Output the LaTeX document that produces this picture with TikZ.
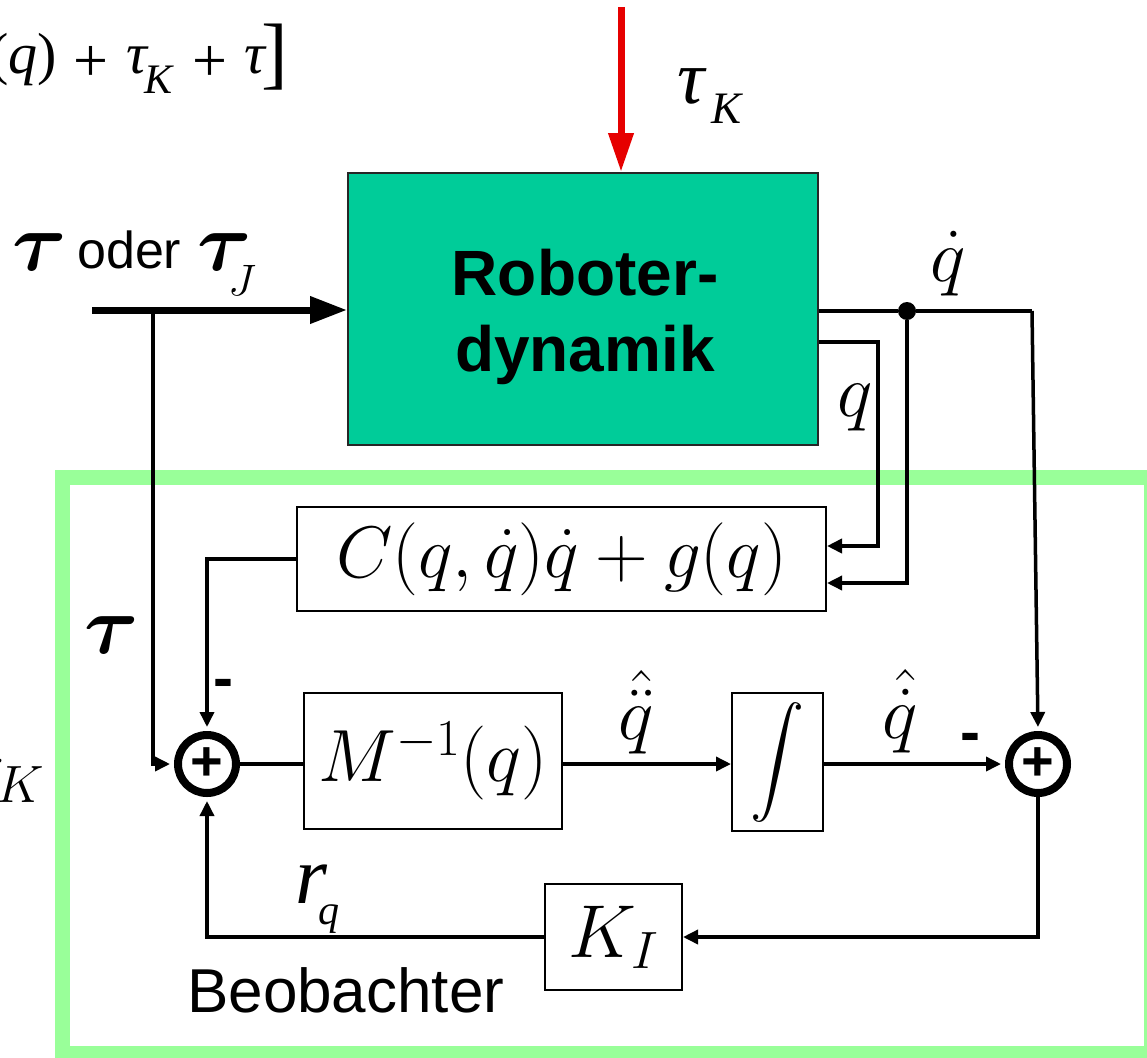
\RequirePackage{fix-cm}
\documentclass[tikz,border=0pt]{standalone}
\usepackage{amsmath}
\usepackage{graphicx}
\usepackage{fontspec}
\setsansfont{Liberation Sans}
\newfontfamily\tms{Liberation Serif}
\usetikzlibrary{arrows.meta}
\definecolor{robgreen}{HTML}{00CC99}
\definecolor{obsgreen}{HTML}{99FF99}
\definecolor{kred}{HTML}{E60000}
\newcommand\setfs[1]{\fontsize{#1}{#1}\selectfont}
\begin{document}
\begin{tikzpicture}[x=1pt,y=-1pt,
  conn/.style={line width=3.5pt},
  arr/.style={conn,-{Triangle[length=15pt,width=14pt]}},
  blk/.style={draw=black,line width=2pt,rectangle,inner sep=0pt,font=\setfs{74}},
  sumnode/.style={circle,draw=black,line width=8pt,minimum size=58pt,inner sep=0pt,font=\sffamily\bfseries\setfs{56}},
  mlbl/.style={inner sep=0pt,font=\setfs{75}},
  tlbl/.style={inner sep=0pt},
  minus/.style={inner sep=0pt,font=\sffamily\bfseries\setfs{60}}]
\useasboundingbox (0,0) rectangle (1147,1057);
\clip (0,0) rectangle (1147,1057);
% observer frame
\draw[obsgreen,line width=15pt] (62,477) rectangle (1151,1053);
% blocks
\node[draw=black!85,line width=2pt,fill=robgreen,minimum width=470pt,minimum height=272pt,inner sep=0pt] (rob) at (583,309) {};
\node[tlbl,anchor=base,font=\sffamily\bfseries\setfs{64}] (rob1) at (585,295) {Roboter-};
\node[tlbl,anchor=base,font=\sffamily\bfseries\setfs{64}] (rob2) at (585,371) {dynamik};
\node[blk,minimum width=529pt,minimum height=104pt,font=\setfs{73}] (cbox) at (561.5,559) {$C(q,\dot q)\dot q+g(q)$};
\node[blk,minimum width=258pt,minimum height=136pt] (mbox) at (433,761) {$M^{-1}(q)$};
\node[blk,minimum width=91pt,minimum height=138pt,font=\setfs{10}] (ibox) at (777.5,762) {\scalebox{5.4}{$\displaystyle\int$}};
\node[blk,minimum width=137pt,minimum height=106pt,font=\setfs{75}] (kbox) at (613.5,937) {$K_I$};
\node[sumnode] (sum1) at (207,764) {+};
\node[sumnode] (sum2) at (1038,764) {+};
\node[circle,fill=black,minimum size=18pt,inner sep=0pt] (br) at (907,311) {};
% coordinates for free ends
\coordinate (inL) at (92,310);
\coordinate (tb) at (153,310);
\coordinate (tkT) at (621,7);
\coordinate (qturn) at (878,342);
\coordinate (qdr) at (1032,311);
% connectors
\draw[line width=7pt,-{Triangle[length=37pt,width=26pt]}] (inL) -- (rob.west |- inL);
\draw[kred,line width=7pt,-{Triangle[length=39pt,width=24pt]}] (tkT) -- (tkT |- rob.north);
\draw[arr,line width=4.5pt] (rob.east |- qturn) -- (qturn) |- ([yshift=13pt]cbox.east);
\draw[conn] (rob.east |- br) -- (br) -- (qdr);
\draw[arr] (br) |- ([yshift=-24pt]cbox.east);
\draw[arr,shorten >=4pt] (qdr) -- (sum2.north);
\draw[arr,shorten >=4pt] (cbox.west) -| (sum1.north);
\draw[arr,shorten >=4pt] (tb) |- (sum1.west);
\draw[conn] (sum1.east) -- (sum1.east -| mbox.west);
\draw[arr] (sum1.east -| mbox.east) -- (sum1.east -| ibox.west);
\draw[arr,shorten >=4pt] (sum1.east -| ibox.east) -- (sum2.west);
\draw[arr] (sum2.south) |- (kbox.east);
\draw[arr,shorten >=4pt] (kbox.west) -| (sum1.south);
% labels
\node[mlbl,anchor=base] (lqd) at (948,281) {$\dot q$};
\node[mlbl,anchor=base] (lq) at (855,416) {$q$};
\node[mlbl,anchor=base] (lqddh) at (636,739) {$\hat{\ddot q}$};
\node[mlbl,anchor=base] (lqdh) at (900,738) {$\hat{\dot q}$};
\node[mlbl,anchor=base east] (ltkl) at (45,791) {$\tau_K$};
\node[minus] (m1) at (223,689) {-};
\node[minus] (m2) at (970,743) {-};
\node[tlbl,anchor=base,font=\setfs{83}] (ltau) at (112,653) {$\boldsymbol{\tau}$};
\node[tlbl,anchor=base,font=\setfs{83}] (ltau1) at (40,270) {$\boldsymbol{\tau}$};
\node[tlbl,anchor=base west,font=\sffamily\setfs{52}] (loder) at (77,268) {oder};
\node[tlbl,anchor=base,font=\setfs{83}] (ltau2) at (225,270) {$\boldsymbol{\tau}$};
\node[tlbl,anchor=base,font=\setfs{44}] (lJ) at (242,295) {$J$};
\node[tlbl,anchor=base west,font=\sffamily\setfs{62}] (lbeo) at (187,1012) {Beobachter};
% tau_K top
\node[tlbl,anchor=base,font=\tms\itshape\setfs{76}] (ltk) at (691,103) {τ};
\node[tlbl,anchor=base,font=\tms\itshape\setfs{45}] (ltkK) at (726,123) {K};
% r_q
\node[tlbl,anchor=base,font=\tms\itshape\setfs{82}] (lr) at (311,903) {r};
\node[tlbl,anchor=base,font=\tms\itshape\setfs{42}] (lrq) at (329,924) {q};
% top-left fragment
\node[tlbl,anchor=base east,font=\tms\setfs{58}] (f1) at (57,73) {(\textit{q})};
\node[tlbl,font=\tms\setfs{62}] (f2) at (91,64) {+};
\node[tlbl,anchor=base,font=\tms\itshape\setfs{58}] (f3) at (137,74) {τ};
\node[tlbl,anchor=base,font=\tms\itshape\setfs{42}] (f4) at (159,93) {K};
\node[tlbl,font=\tms\setfs{62}] (f5) at (210,64) {+};
\node[tlbl,anchor=base,font=\tms\itshape\setfs{58}] (f6) at (255,74) {τ};
\node[tlbl,font=\tms\setfs{80}] (f7) at (275,57) {]};
\end{tikzpicture}
\end{document}
